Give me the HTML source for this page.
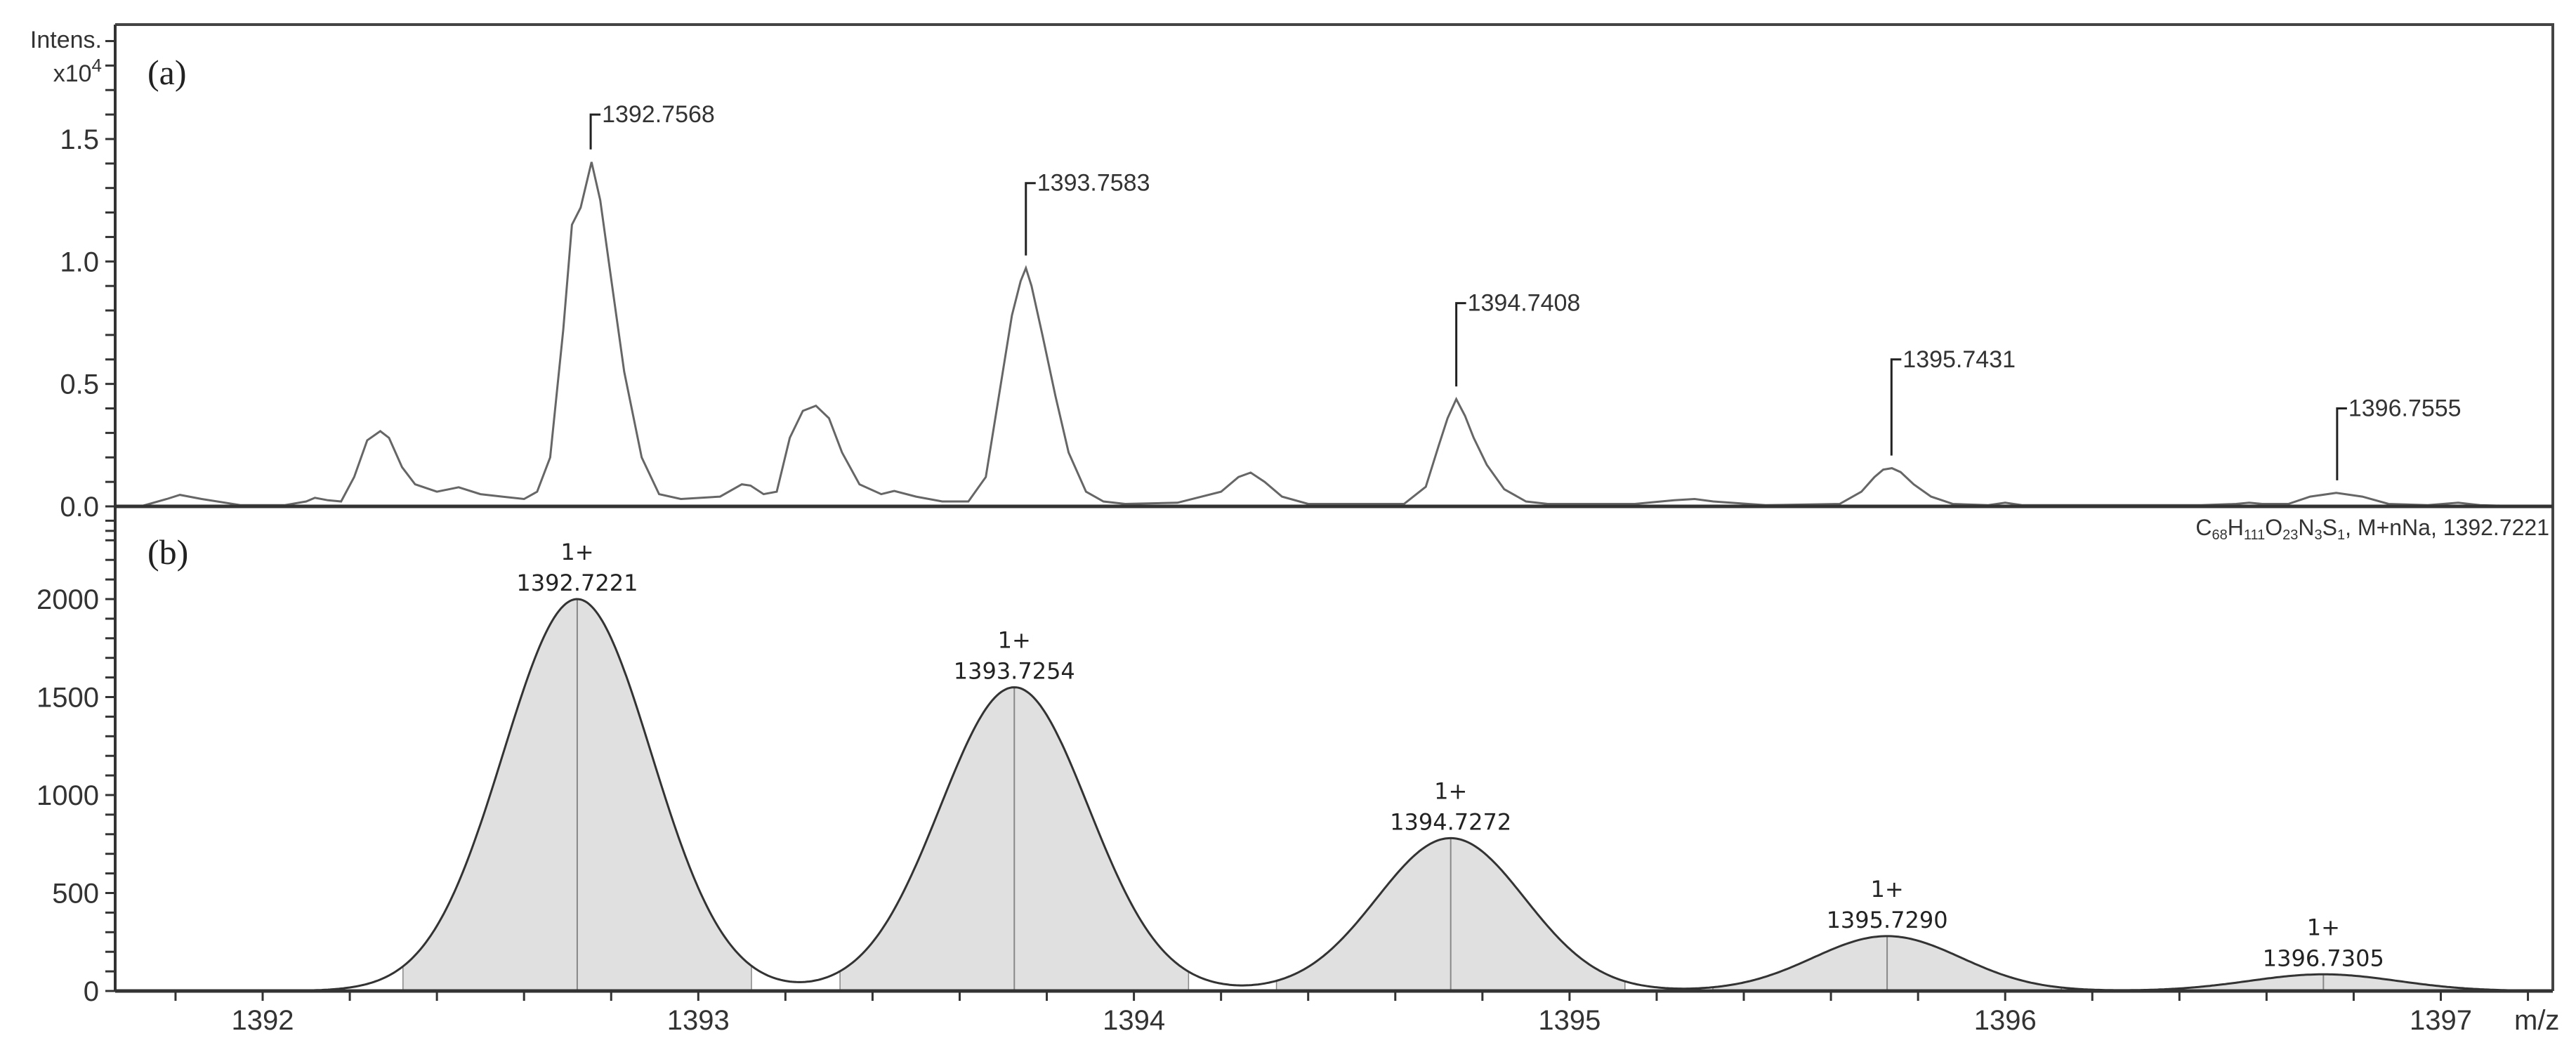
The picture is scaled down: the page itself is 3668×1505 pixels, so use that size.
<!DOCTYPE html>
<html><head><meta charset="utf-8"><style>
html,body{margin:0;padding:0;background:#fff;}
svg{display:block;font-family:"Liberation Sans",Arial,sans-serif;}
</style></head><body>
<svg id="chart" width="3668" height="1505" viewBox="0 0 3668 1505" xmlns="http://www.w3.org/2000/svg">
<rect x="0" y="0" width="3668" height="1505" fill="#fff"/>
<g id="g-bottom"></g>
<g id="g-top"></g>
<g id="g-axes"></g>
<text x="210" y="120" font-family="Liberation Serif,serif" font-size="50" fill="#222">(a)</text>
<text x="210" y="803" font-family="Liberation Serif,serif" font-size="50" fill="#222">(b)</text>
<text x="145" y="68" font-size="34" text-anchor="end" fill="#333">Intens.</text>
<text x="145" y="116" font-size="34" text-anchor="end" fill="#333">x10<tspan dy="-14" font-size="26">4</tspan></text>
<text x="3630" y="762" font-size="32" text-anchor="end" fill="#333">C<tspan font-size="20" dy="6">68</tspan><tspan dy="-6">H</tspan><tspan font-size="20" dy="6">111</tspan><tspan dy="-6">O</tspan><tspan font-size="20" dy="6">23</tspan><tspan dy="-6">N</tspan><tspan font-size="20" dy="6">3</tspan><tspan dy="-6">S</tspan><tspan font-size="20" dy="6">1</tspan><tspan dy="-6">, M+nNa, 1392.7221</tspan></text>
<text x="3580" y="1466" font-size="40" fill="#333">m/z</text>
</svg>
<script>
// ---- data ----
const topMz  = [1391.60,1391.72,1391.78,1391.81,1391.86,1391.95,1392.05,1392.10,1392.12,1392.15,1392.18,1392.21,1392.24,1392.27,1392.29,1392.32,1392.35,1392.40,1392.45,1392.50,1392.55,1392.60,1392.63,1392.66,1392.69,1392.71,1392.73,1392.755,1392.775,1392.80,1392.83,1392.87,1392.91,1392.96,1393.05,1393.10,1393.12,1393.15,1393.18,1393.21,1393.24,1393.27,1393.30,1393.33,1393.37,1393.42,1393.45,1393.50,1393.56,1393.62,1393.66,1393.69,1393.72,1393.74,1393.752,1393.765,1393.79,1393.82,1393.85,1393.89,1393.93,1393.98,1394.10,1394.20,1394.24,1394.268,1394.30,1394.34,1394.40,1394.50,1394.62,1394.67,1394.70,1394.72,1394.74,1394.76,1394.78,1394.81,1394.85,1394.90,1394.95,1395.15,1395.24,1395.287,1395.33,1395.45,1395.62,1395.67,1395.70,1395.72,1395.74,1395.76,1395.79,1395.83,1395.88,1395.96,1396.00,1396.04,1396.45,1396.53,1396.56,1396.59,1396.65,1396.70,1396.76,1396.82,1396.88,1396.97,1397.04,1397.09,1397.20];
const topInt = [0.0,0.0,0.03,0.047,0.03,0.005,0.005,0.02,0.035,0.025,0.02,0.12,0.27,0.307,0.28,0.16,0.09,0.06,0.078,0.05,0.04,0.03,0.06,0.2,0.72,1.15,1.22,1.406,1.25,0.93,0.55,0.2,0.05,0.03,0.04,0.09,0.085,0.05,0.06,0.28,0.39,0.411,0.36,0.22,0.09,0.05,0.063,0.04,0.02,0.02,0.12,0.45,0.78,0.92,0.973,0.9,0.7,0.45,0.22,0.06,0.02,0.01,0.015,0.06,0.12,0.138,0.1,0.04,0.01,0.01,0.01,0.08,0.25,0.36,0.438,0.37,0.28,0.17,0.07,0.02,0.01,0.01,0.025,0.03,0.02,0.005,0.01,0.06,0.12,0.15,0.156,0.14,0.09,0.04,0.01,0.005,0.015,0.005,0.005,0.01,0.015,0.01,0.01,0.04,0.055,0.04,0.01,0.005,0.015,0.005,0.0];
const topLabels = ["1392.7568","1393.7583","1394.7408","1395.7431","1396.7555"];
const topLabelMz = [1392.753,1393.752,1394.740,1395.739,1396.762];
const topLabelInt = [1.406,0.973,0.438,0.156,0.055];
const topLabelTextInt = [1.60,1.32,0.83,0.60,0.40];
const simCenters = [1392.7221,1393.7254,1394.7272,1395.7290,1396.7305];
const simHeights = [2000,1550,780,280,85];
const simLabels = ["1392.7221","1393.7254","1394.7272","1395.7290","1396.7305"];
const simSigma = 0.17;
const xTickLabels = [1392,1393,1394,1395,1396,1397];
const topYLabels = ["0.0","0.5","1.0","1.5"];
const botYLabels = ["0","500","1000","1500","2000"];

// ---- scales ----
const L=164, R=3635, TOP=35, MID=721, BOT=1411;
const x = v => 374 + (v-1392)*620.3;
const yA = v => MID - v*348.7;
const yB = v => BOT - v*0.279;
const NS="http://www.w3.org/2000/svg";
function mk(tag, attrs, parent){const e=document.createElementNS(NS,tag);for(const k in attrs)e.setAttribute(k,attrs[k]);parent.appendChild(e);return e;}
const gT=document.getElementById('g-top'), gB=document.getElementById('g-bottom'), gA=document.getElementById('g-axes');

// ---- panel a spectrum ----
let d='';
topMz.forEach((m,i)=>{const px=Math.max(L,x(m));d+=(i?'L':'M')+px.toFixed(1)+','+yA(topInt[i]).toFixed(1);});
const sp=mk('path',{d:d,fill:'none',stroke:'#666','stroke-width':3},gT);


topLabels.forEach((t,i)=>{
  const px=x(topLabelMz[i]), y0=yA(topLabelInt[i])-18, y1=yA(topLabelTextInt[i]);
  const ln=mk('path',{d:`M${px},${y0}L${px},${y1}L${px+14},${y1}`,fill:'none',stroke:'#222','stroke-width':3},gT);
  
  
  const tx=mk('text',{x:px+16,y:y1+11,'font-size':34,fill:'#333'},gT);
  tx.textContent=t;
  
  
});

// ---- panel b simulated ----
const sim = v => simCenters.reduce((s,c,i)=>s+simHeights[i]*Math.exp(-((v-c)**2)/(2*simSigma*simSigma)),0);
simCenters.forEach((c,i)=>{
  let p=`M${x(c-0.4)},${BOT}`;
  for(let v=c-0.4; v<=c+0.4001; v+=0.005) p+=`L${x(v).toFixed(1)},${yB(sim(v)).toFixed(1)}`;
  p+=`L${x(c+0.4)},${BOT}Z`;
  const f=mk('path',{d:p,fill:'#e0e0e0',stroke:'#888','stroke-width':1.5},gB);
  
  
  const cl=mk('line',{x1:x(c),x2:x(c),y1:BOT,y2:yB(simHeights[i]+sim(c)-simHeights[i]),stroke:'#888','stroke-width':2},gB);
  
  
  const ap=yB(sim(c));
  const t1=mk('text',{x:x(c),y:ap-56,'font-size':32,'text-anchor':'middle',fill:'#222','font-family':'"DejaVu Sans",sans-serif'},gB);
  t1.textContent='1+';
  
  
  const t2=mk('text',{x:x(c),y:ap-12,'font-size':32,'text-anchor':'middle',fill:'#222','font-family':'"DejaVu Sans",sans-serif'},gB);
  t2.textContent=simLabels[i];
  
  
});
let sd='';
for(let v=1391.95; v<=1397.2; v+=0.005){sd+=(sd?'L':'M')+x(v).toFixed(1)+','+yB(sim(v)).toFixed(1);}
const sl=mk('path',{d:sd,fill:'none',stroke:'#333','stroke-width':3},gB);



// ---- axes / frame ----
const fr=mk('path',{d:`M${L},${TOP}L${R},${TOP}L${R},${BOT}`,fill:'none',stroke:'#444','stroke-width':4},gA);


const ya=mk('line',{x1:L,x2:L,y1:TOP,y2:BOT,stroke:'#333','stroke-width':4},gA);


const mid=mk('line',{x1:L,x2:R,y1:MID,y2:MID,stroke:'#333','stroke-width':5},gA);


const xa=mk('line',{x1:L,x2:R,y1:BOT,y2:BOT,stroke:'#333','stroke-width':5},gA);


for(let k=-1;k<=19;k++){const v=k/10,y=yA(v);if(y<TOP+5)continue;
  const t=mk('line',{x1:L-14,x2:L,y1:y,y2:y,stroke:'#333','stroke-width':3},gA);
  
  }
topYLabels.forEach((s,i)=>{const tx=mk('text',{x:141,y:yA(i*0.5)+14,'font-size':40,'text-anchor':'end',fill:'#333'},gA);tx.textContent=s;
  
  });
for(let k=0;k<=24;k++){const y=yB(k*100);if(y<MID+8)continue;
  const t=mk('line',{x1:L-14,x2:L,y1:y,y2:y,stroke:'#333','stroke-width':3},gA);
  
  }
botYLabels.forEach((s,i)=>{const tx=mk('text',{x:141,y:yB(i*500)+14,'font-size':40,'text-anchor':'end',fill:'#333'},gA);tx.textContent=s;
  
  });
for(let k=0;k<=27;k++){const v=1391.8+k*0.2,px=x(v);if(px>R)break;
  const t=mk('line',{x1:px,x2:px,y1:BOT,y2:BOT+14,stroke:'#333','stroke-width':3},gA);
  
  }
xTickLabels.forEach(v=>{const tx=mk('text',{x:x(v),y:1466,'font-size':40,'text-anchor':'middle',fill:'#333'},gA);tx.textContent=String(v);
  
  });
</script>
</body></html>
